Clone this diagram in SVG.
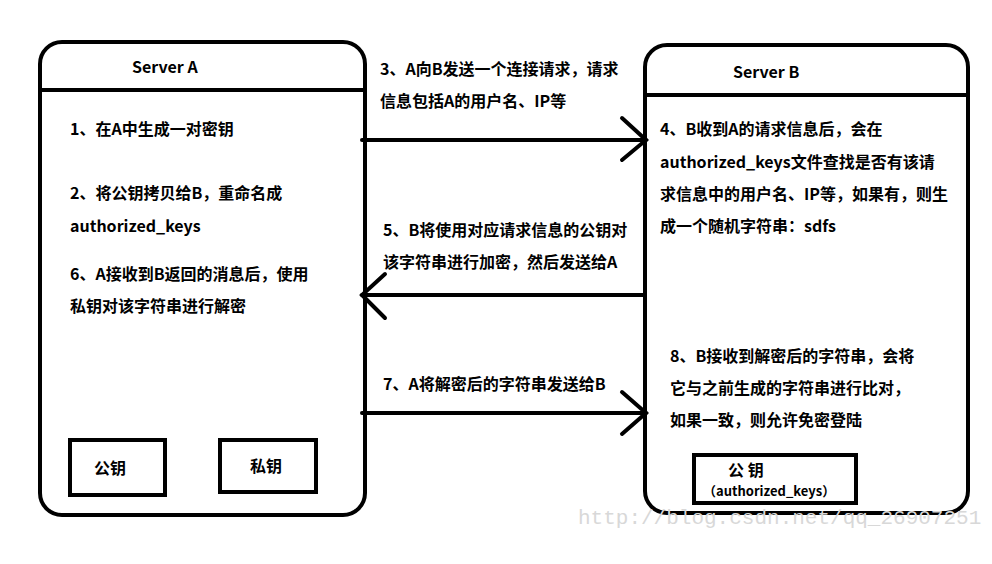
<svg xmlns="http://www.w3.org/2000/svg" width="992" height="564" viewBox="0 0 992 564">
<style>
.box{fill:none;stroke:#000;stroke-width:4}
.t{font-family:"Noto Sans CJK SC","Liberation Sans",sans-serif;font-weight:bold;font-size:16px;fill:#000}
.c{stroke:#000;stroke-width:4;fill:none;stroke-linecap:round}
</style>
<rect width="992" height="564" fill="#fff"/>
<g id="serverA">
<rect class="box" x="40" y="42" width="325" height="473" rx="22"/>
<line class="c" x1="40" y1="90" x2="365" y2="90"/>
<text class="t" x="132" y="73">Server A</text>
<text class="t" x="70" y="135">1、在A中生成一对密钥</text>
<text class="t" x="70" y="199">2、将公钥拷贝给B，重命名成</text>
<text class="t" x="70" y="232">authorized_keys</text>
<text class="t" x="70" y="280">6、A接收到B返回的消息后，使用</text>
<text class="t" x="70" y="312">私钥对该字符串进行解密</text>
</g>
<g id="pubA"><rect class="box" x="70" y="440" width="95" height="55"/><text class="t" x="94" y="474">公钥</text></g>
<g id="privA"><rect class="box" x="220" y="440" width="96" height="52"/><text class="t" x="250" y="472">私钥</text></g>
<g id="serverB">
<rect class="box" x="645" y="45" width="323" height="468" rx="22"/>
<line class="c" x1="645" y1="95" x2="968" y2="95"/>
<text class="t" x="733" y="78">Server B</text>
<text class="t" x="660" y="135">4、B收到A的请求信息后，会在</text>
<text class="t" x="660" y="168">authorized_keys文件查找是否有该请</text>
<text class="t" x="660" y="200">求信息中的用户名、IP等，如果有，则生</text>
<text class="t" x="660" y="232">成一个随机字符串：sdfs</text>
<text class="t" x="670" y="362">8、B接收到解密后的字符串，会将</text>
<text class="t" x="670" y="394">它与之前生成的字符串进行比对，</text>
<text class="t" x="670" y="426">如果一致，则允许免密登陆</text>
</g>
<g id="pubB"><rect class="box" x="694" y="455" width="162" height="48"/><text class="t" x="728" y="476">公    钥</text><text class="t" x="703" y="496" style="font-size:13px">（authorized_keys）</text></g>
<g id="connectors">
<line class="c" x1="362" y1="140" x2="646" y2="140"/><polyline class="c" points="622,118 646,140 622,160"/>
<line class="c" x1="645" y1="295" x2="362" y2="295"/><polyline class="c" points="385,274 362,295 385,318"/>
<line class="c" x1="362" y1="413" x2="646" y2="413"/><polyline class="c" points="622,392 646,413 622,434"/>
<text class="t" x="380" y="75">3、A向B发送一个连接请求，请求</text>
<text class="t" x="380" y="107">信息包括A的用户名、IP等</text>
<text class="t" x="383" y="236">5、B将使用对应请求信息的公钥对</text>
<text class="t" x="383" y="268">该字符串进行加密，然后发送给A</text>
<text class="t" x="383" y="390">7、A将解密后的字符串发送给B</text>
</g>
<text x="578" y="524" style="font-family:'Liberation Mono',monospace;font-size:21px;fill:#d8d8d8">http://blog.csdn.net/qq_26907251</text>
</svg>
